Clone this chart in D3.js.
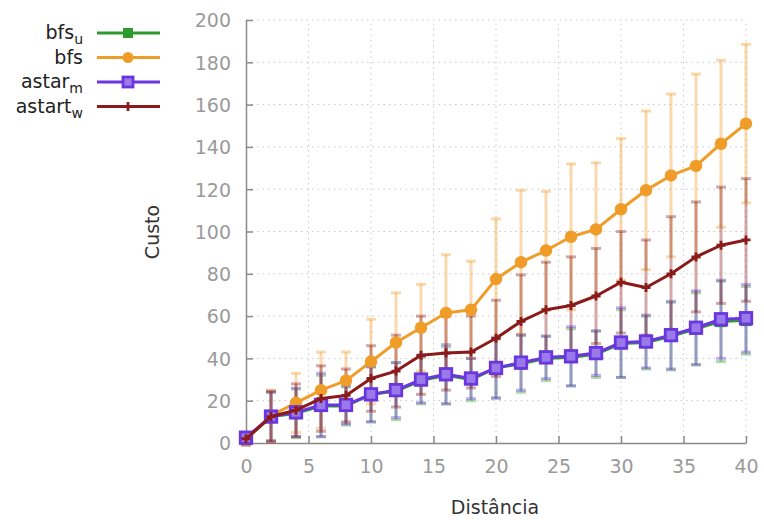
<!DOCTYPE html>
<meta charset="utf-8">
<style>
body { margin: 0; background: white; font-family: "DejaVu Sans", sans-serif; }
.tick text { fill: #9a9a9a; font-size: 19px; }
.grid line { stroke: #c8c8c8; stroke-dasharray: 1.5,4; }
</style>
<body>
<svg width="764" height="520" id="chart"></svg>
<script src="https://cdnjs.cloudflare.com/ajax/libs/d3/7.8.5/d3.min.js"></script>
<script>

var dist = [0, 2, 4, 6, 8, 10, 12, 14, 16, 18, 20, 22, 24, 26, 28, 30, 32, 34, 36, 38, 40];

var bfsU    = [2, 12.5, 14, 17.5, 17.5, 23, 24.5, 29.5, 32, 30, 35.5, 37.5, 40, 40.5, 42, 47, 47.5, 50.5, 54, 57.5, 58];
var bfsUErr = [2.5, 11.5, 11.5, 14.5, 9, 13, 13.5, 11, 13.5, 10, 14, 13.5, 10.5, 13.5, 11, 16, 12.5, 16, 17, 19, 16];

var bfs    = [2, 13, 19, 25, 29.5, 38.5, 47.5, 54.5, 61.5, 63, 77.5, 85.5, 91, 97.5, 101, 110.5, 119.5, 126.5, 131, 141.5, 151];
var bfsErr = [3, 12, 14, 18, 13.5, 20, 23.5, 20.5, 27.5, 23, 28.5, 34, 28, 34.5, 31.5, 33.5, 37.5, 38.5, 43.5, 39.5, 37.5];

var astarM    = [2.5, 12.5, 14.5, 18, 18, 23, 25, 30, 32.5, 30.5, 35.5, 38, 40.5, 41, 42.5, 47.5, 48, 51, 54.5, 58.5, 59];
var astarMErr = [2.5, 11.5, 11.5, 15, 9, 13, 13, 11, 14, 9.5, 14.5, 13, 10, 14, 10.5, 16.5, 12.5, 16, 17.5, 18.5, 16];

var astartW    = [2, 12.5, 15.5, 21, 22.5, 30.5, 34, 41.5, 42.5, 43, 49.5, 57.5, 63, 65, 69.5, 76, 73.5, 80, 88, 93.5, 96];
var astartWErr = [3, 12, 12.5, 15.5, 12.5, 15.5, 17, 18.5, 17.5, 17, 18, 22, 22.5, 23, 22.5, 24, 22.5, 27, 26, 27.5, 29];

var xTicks = [0, 5, 10, 15, 20, 25, 30, 35, 40];
var yTicks = [0, 20, 40, 60, 80, 100, 120, 140, 160, 180, 200];

var series = [
  { name: "bfs", sub: "u", color: "#2e9a2e", mean: bfsU, err: bfsUErr, marker: "square" },
  { name: "bfs", sub: "", color: "#f09c28", mean: bfs, err: bfsErr, marker: "circle" },
  { name: "astar", sub: "m", color: "#6a36e0", mean: astarM, err: astarMErr, marker: "open" },
  { name: "astart", sub: "w", color: "#8b1a1a", mean: astartW, err: astartWErr, marker: "plus" }
];

var svg = d3.select("#chart");

var x = d3.scaleLinear().domain([0, 40]).range([246, 746]);
var y = d3.scaleLinear().domain([0, 200]).range([443, 20]);

// grid
svg.append("g").attr("class", "grid")
  .selectAll("line").data(yTicks.slice(1)).enter().append("line")
    .attr("x1", x(0)).attr("x2", x(40))
    .attr("y1", function(d) { return y(d); }).attr("y2", function(d) { return y(d); });
svg.append("g").attr("class", "grid")
  .selectAll("line").data(xTicks.slice(1)).enter().append("line")
    .attr("y1", y(0)).attr("y2", y(200))
    .attr("x1", function(d) { return x(d); }).attr("x2", function(d) { return x(d); });

// axes
var xAxis = svg.append("g")
  .attr("transform", "translate(0," + y(0) + ")")
  .call(d3.axisBottom(x).tickValues(xTicks).tickSizeInner(-7).tickSizeOuter(0).tickPadding(17));
var yAxis = svg.append("g")
  .attr("transform", "translate(" + x(0) + ",0)")
  .call(d3.axisLeft(y).tickValues(yTicks).tickSizeInner(-7).tickSizeOuter(0).tickPadding(15));
[xAxis, yAxis].forEach(function(a) {
  a.selectAll(".domain").attr("stroke", "#8a8a8a").attr("stroke-width", 1.5);
  a.selectAll(".tick line").attr("stroke", "#8a8a8a").attr("stroke-width", 1.5);
  a.attr("font-family", null).attr("font-size", null);
});
yAxis.selectAll(".tick text").attr("dy", "0.36em");

svg.append("text")
  .attr("transform", "translate(159,232) rotate(-90)")
  .attr("text-anchor", "middle")
  .attr("fill", "#333")
  .attr("font-size", 19)
  .text("Custo");
svg.append("text")
  .attr("x", 495).attr("y", 514)
  .attr("text-anchor", "middle")
  .attr("fill", "#333")
  .attr("font-size", 19)
  .text("Distância");

// error bars
series.forEach(function(s) {
  var g = svg.append("g")
    .attr("stroke", s.color)
    .attr("stroke-opacity", 0.38)
    .attr("stroke-width", 3);
  dist.forEach(function(d, i) {
    var lo = s.mean[i] - s.err[i], hi = s.mean[i] + s.err[i];
    g.append("line").attr("x1", x(d)).attr("x2", x(d)).attr("y1", y(lo)).attr("y2", y(hi));
    [lo, hi].forEach(function(v) {
      g.append("line").attr("x1", x(d) - 5).attr("x2", x(d) + 5).attr("y1", y(v)).attr("y2", y(v));
    });
  });
});

function drawMarker(g, kind, color, cx, cy, size) {
  var h = size / 2;
  if (kind === "square") {
    g.append("rect").attr("x", cx - h).attr("y", cy - h).attr("width", size).attr("height", size)
      .attr("fill", color);
  } else if (kind === "circle") {
    g.append("circle").attr("cx", cx).attr("cy", cy).attr("r", h + 0.5).attr("fill", color);
  } else if (kind === "open") {
    g.append("rect").attr("x", cx - h).attr("y", cy - h).attr("width", size).attr("height", size)
      .attr("fill", "#9a7ae8").attr("stroke", color).attr("stroke-width", 2.8);
  } else {
    g.append("path").attr("d", "M" + (cx - 4.5) + "," + cy + "h9M" + cx + "," + (cy - 4.5) + "v9")
      .attr("stroke", color).attr("stroke-width", 2.8);
  }
}

var line = d3.line()
  .x(function(d) { return x(d[0]); })
  .y(function(d) { return y(d[1]); });

series.forEach(function(s) {
  var g = svg.append("g");
  g.append("path")
    .datum(dist.map(function(d, i) { return [d, s.mean[i]]; }))
    .attr("fill", "none")
    .attr("stroke", s.color)
    .attr("stroke-width", 3)
    .attr("stroke-linejoin", "round")
    .attr("d", line);
  dist.forEach(function(d, i) { drawMarker(g, s.marker, s.color, x(d), y(s.mean[i]), 11.5); });
});

// legend
var legend = svg.append("g");
series.forEach(function(s, i) {
  var ly = 33 + i * 24.5;
  var t = legend.append("text")
    .attr("x", 83).attr("y", ly + 6)
    .attr("text-anchor", "end")
    .attr("fill", "#222")
    .attr("font-size", 19);
  t.append("tspan").text(s.name);
  if (s.sub) {
    t.append("tspan").attr("font-size", 14).attr("dy", 5).text(s.sub);
  }
  legend.append("line")
    .attr("x1", 97).attr("x2", 160).attr("y1", ly).attr("y2", ly)
    .attr("stroke", s.color).attr("stroke-width", 3);
  drawMarker(legend, s.marker, s.color, 128, ly, 10);
});

</script>
</body>
